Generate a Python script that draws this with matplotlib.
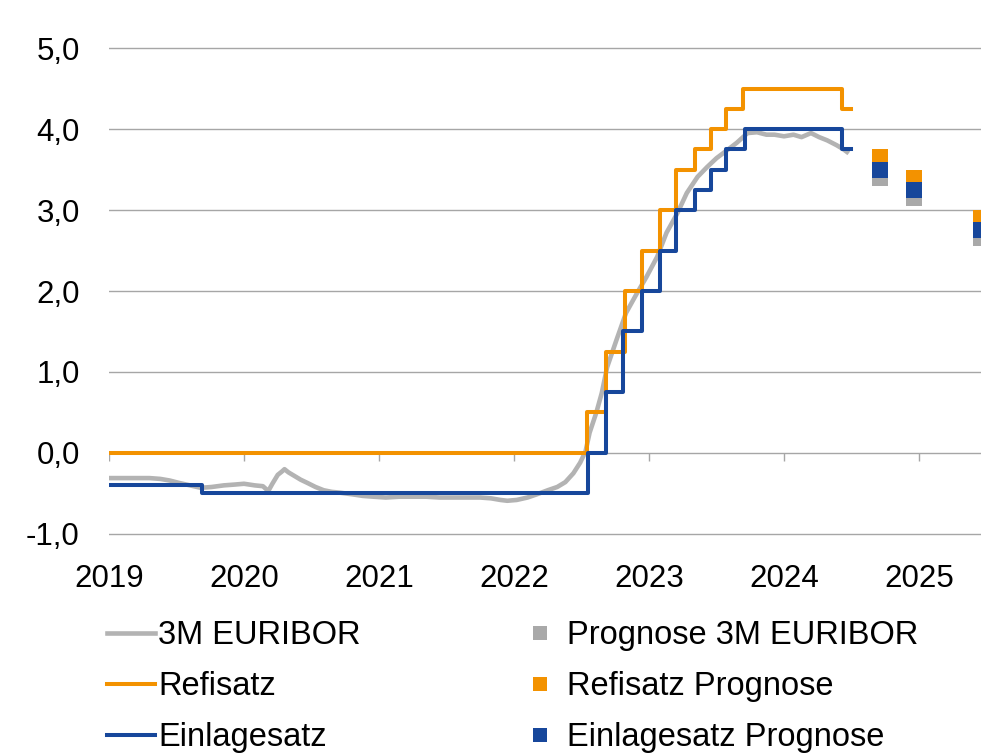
import matplotlib
matplotlib.use("Agg")
import matplotlib.pyplot as plt
from matplotlib.lines import Line2D

plt.rcParams['font.family'] = ['Liberation Sans', 'DejaVu Sans']

# ---------------- data ----------------
euribor_t = [2019.00, 2019.10, 2019.20, 2019.30, 2019.38, 2019.45, 2019.52, 2019.60, 2019.68, 2019.76,
             2019.85, 2019.93, 2020.00, 2020.08, 2020.14, 2020.18, 2020.21, 2020.25, 2020.28, 2020.30,
             2020.33, 2020.37, 2020.42, 2020.47, 2020.53, 2020.59, 2020.65, 2020.71, 2020.80, 2020.88,
             2020.96, 2021.05, 2021.15, 2021.25, 2021.35, 2021.45, 2021.55, 2021.65, 2021.75, 2021.83,
             2021.90, 2021.95, 2022.02, 2022.10, 2022.17, 2022.25, 2022.32, 2022.38, 2022.44, 2022.49,
             2022.53, 2022.56, 2022.61, 2022.65, 2022.69, 2022.76, 2022.83, 2022.91, 2022.98, 2023.06,
             2023.13, 2023.21, 2023.28, 2023.36, 2023.43, 2023.50, 2023.58, 2023.65, 2023.73, 2023.80,
             2023.87, 2023.93, 2024.00, 2024.07, 2024.13, 2024.20, 2024.26, 2024.32, 2024.39, 2024.44,
             2024.48]
euribor_v = [-0.31, -0.31, -0.31, -0.31, -0.32, -0.34, -0.37, -0.40, -0.43, -0.42,
             -0.40, -0.39, -0.38, -0.40, -0.41, -0.47, -0.38, -0.27, -0.23, -0.20,
             -0.24, -0.28, -0.33, -0.37, -0.42, -0.46, -0.48, -0.49, -0.51, -0.53,
             -0.54, -0.55, -0.54, -0.54, -0.54, -0.55, -0.55, -0.55, -0.55, -0.56,
             -0.58, -0.59, -0.58, -0.55, -0.51, -0.46, -0.42, -0.36, -0.25, -0.12,
             0.02, 0.25, 0.50, 0.74, 1.06, 1.40, 1.73, 1.97, 2.17, 2.42,
             2.72, 2.96, 3.21, 3.41, 3.53, 3.64, 3.74, 3.83, 3.95, 3.96,
             3.93, 3.93, 3.91, 3.93, 3.90, 3.95, 3.90, 3.86, 3.80, 3.75,
             3.70]

refi_t = [2019.00, 2022.54, 2022.68, 2022.82, 2022.95, 2023.08, 2023.20, 2023.34, 2023.46,
          2023.57, 2023.70, 2024.43, 2024.50]
refi_v = [0.00, 0.50, 1.25, 2.00, 2.50, 3.00, 3.50, 3.75, 4.00, 4.25, 4.50, 4.25, 4.25]

einlage_t = [2019.00, 2019.69, 2022.55, 2022.68, 2022.81, 2022.95, 2023.08, 2023.20, 2023.34,
             2023.46, 2023.57, 2023.71, 2024.43, 2024.50]
einlage_v = [-0.40, -0.50, 0.00, 0.75, 1.50, 2.00, 2.50, 3.00, 3.25, 3.50, 3.75, 4.00, 3.75, 3.75]

prog_t = [2024.71, 2024.96, 2025.46]
prog_euribor = [3.40, 3.15, 2.65]
prog_refi = [3.65, 3.40, 2.90]
prog_einlage = [3.50, 3.25, 2.75]

years = [2019, 2020, 2021, 2022, 2023, 2024, 2025]
year_labels = ["2019", "2020", "2021", "2022", "2023", "2024", "2025"]
y_ticks = [-1, 0, 1, 2, 3, 4, 5]
y_labels = ["-1,0", "0,0", "1,0", "2,0", "3,0", "4,0", "5,0"]

labels = ["3M EURIBOR", "Refisatz", "Einlagesatz",
          "Prognose 3M EURIBOR", "Refisatz Prognose", "Einlagesatz Prognose"]

# ---------------- style ----------------
c_gray = '#b3b3b3'
c_gray_sq = '#a9a9a9'
c_orange = '#f39200'
c_blue = '#17479b'
c_grid = '#a6a6a6'

W, H = 981, 755
fig = plt.figure(figsize=(W / 100, H / 100), dpi=100)
ax = fig.add_axes([109 / W, (H - 536) / H, 872 / W, 490 / H])

ax.set_xlim(2019.0, 2019.0 + 872 / 135)
ax.set_ylim(-1.025, 5.025)

for s in ax.spines.values():
    s.set_visible(False)

ax.set_yticks(y_ticks)
ax.set_yticklabels(y_labels)
ax.set_xticks(years)
ax.set_xticklabels(year_labels)
ax.tick_params(axis='both', length=0, labelsize=22.5, colors='black')
ax.tick_params(axis='y', pad=21)
ax.tick_params(axis='x', pad=20)
ax.yaxis.grid(True, color=c_grid, linewidth=1.0)
ax.set_axisbelow(True)

# small tick marks on the zero line
ax.vlines(years, -0.1, 0, color=c_grid, linewidth=1.0, zorder=1)

ax.plot(euribor_t, euribor_v, color=c_gray, linewidth=3.3, zorder=2, solid_capstyle='butt')
ax.step(refi_t, refi_v, where='post', color=c_orange, linewidth=2.9, zorder=3)
ax.step(einlage_t, einlage_v, where='post', color=c_blue, linewidth=2.9, zorder=4)

ms = 11.5
ax.plot(prog_t, prog_euribor, linestyle='none', marker='s', markersize=ms, color=c_gray_sq,
        markeredgewidth=0, zorder=5, clip_on=False)
ax.plot(prog_t, prog_refi, linestyle='none', marker='s', markersize=ms, color=c_orange,
        markeredgewidth=0, zorder=6, clip_on=False)
ax.plot(prog_t, prog_einlage, linestyle='none', marker='s', markersize=ms, color=c_blue,
        markeredgewidth=0, zorder=7, clip_on=False)

handles = [
    Line2D([], [], color=c_gray, linewidth=3.3),
    Line2D([], [], color=c_orange, linewidth=2.9),
    Line2D([], [], color=c_blue, linewidth=2.9),
    Line2D([], [], linestyle='none', marker='s', markersize=10.5, color=c_gray_sq, markeredgewidth=0),
    Line2D([], [], linestyle='none', marker='s', markersize=10.5, color=c_orange, markeredgewidth=0),
    Line2D([], [], linestyle='none', marker='s', markersize=10.5, color=c_blue, markeredgewidth=0),
]
fig.legend(handles, labels, ncol=2, loc='upper left',
           bbox_to_anchor=(107 / W, (H - 620) / H), frameon=False,
           fontsize=23.5, handlelength=1.47, handletextpad=0.1,
           columnspacing=4.75, labelspacing=0.62, borderpad=0, borderaxespad=0)

fig.savefig('out.png', dpi=100)
